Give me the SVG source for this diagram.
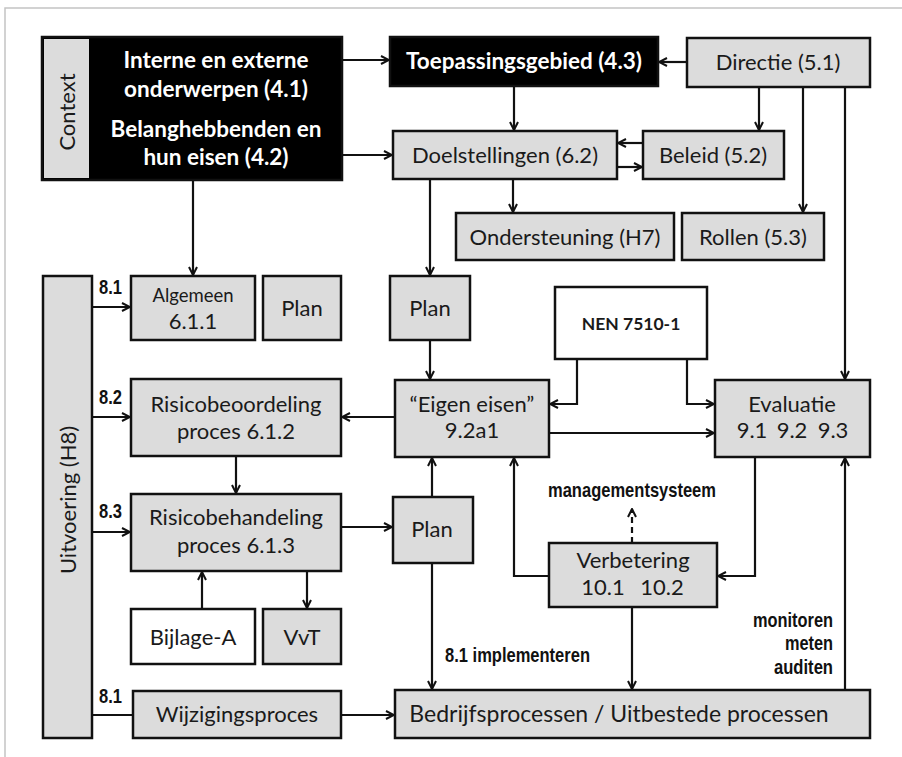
<svg xmlns="http://www.w3.org/2000/svg" width="902" height="757" viewBox="0 0 902 757">
<style>
.bx{fill:#dcdcdc;stroke:#111;stroke-width:2.5}
.bk{fill:#000;stroke:#111;stroke-width:2.5}
.wt{fill:#fff;stroke:#111;stroke-width:2.5}
.t{font-family:"Lato","Open Sans","Liberation Sans",sans-serif;font-size:22px;fill:#1a1a1a;text-anchor:middle}
.tw{font-family:"Lato","Open Sans","Liberation Sans",sans-serif;font-size:22.5px;font-weight:bold;fill:#fff;text-anchor:middle}
.n{font-family:"Liberation Sans",Arial,sans-serif;font-size:21px;font-weight:bold;fill:#111}
.c{fill:none;stroke:#111;stroke-width:2.2}
</style>
<defs>
<marker id="a" viewBox="0 0 10 10" refX="9" refY="5" markerWidth="10" markerHeight="10" markerUnits="userSpaceOnUse" orient="auto">
<path d="M1,1 L9,5 L1,9" fill="none" stroke="#111" stroke-width="2"/>
</marker>
</defs>
<rect width="902" height="757" fill="#fff"/>
<path d="M5,757 V8 H902" fill="none" stroke="#c4c4c4" stroke-width="1.5"/>

<g id="connectors">
<path class="c" d="M342,60 H389" marker-end="url(#a)"/>
<path class="c" d="M342,155 H392" marker-end="url(#a)"/>
<path class="c" d="M687,62 H659" marker-end="url(#a)"/>
<path class="c" d="M514,86 V130" marker-end="url(#a)"/>
<path class="c" d="M643,143 H618" marker-end="url(#a)"/>
<path class="c" d="M617,167 H642" marker-end="url(#a)"/>
<path class="c" d="M759,87 V130" marker-end="url(#a)"/>
<path class="c" d="M803,87 V212" marker-end="url(#a)"/>
<path class="c" d="M845,87 V379" marker-end="url(#a)"/>
<path class="c" d="M513,179 V212" marker-end="url(#a)"/>
<path class="c" d="M193,180 V275" marker-end="url(#a)"/>
<path class="c" d="M430,179 V275" marker-end="url(#a)"/>
<path class="c" d="M92,307 H130" marker-end="url(#a)"/>
<path class="c" d="M92,417 H130" marker-end="url(#a)"/>
<path class="c" d="M92,532 H130" marker-end="url(#a)"/>
<path class="c" d="M92,715 H133"/>
<path class="c" d="M430,340 V379" marker-end="url(#a)"/>
<path class="c" d="M395,417 H342" marker-end="url(#a)"/>
<path class="c" d="M577,359 V404 H550" marker-end="url(#a)"/>
<path class="c" d="M687,359 V404 H714" marker-end="url(#a)"/>
<path class="c" d="M549,433 H714" marker-end="url(#a)"/>
<path class="c" d="M236,456 V493" marker-end="url(#a)"/>
<path class="c" d="M341,527 H392" marker-end="url(#a)"/>
<path class="c" d="M432,497 V458" marker-end="url(#a)"/>
<path class="c" d="M432,563 V689" marker-end="url(#a)"/>
<path class="c" d="M202,609 V572" marker-end="url(#a)"/>
<path class="c" d="M307,571 V608" marker-end="url(#a)"/>
<path class="c" d="M341,715 H394" marker-end="url(#a)"/>
<path class="c" d="M549,576 H514 V458" marker-end="url(#a)"/>
<path class="c" d="M755,457 V576 H718" marker-end="url(#a)"/>
<path class="c" d="M632,543 V509" stroke-dasharray="6,4" marker-end="url(#a)"/>
<path class="c" d="M632,607 V689" marker-end="url(#a)"/>
<path class="c" d="M845,690 V458" marker-end="url(#a)"/>
</g>

<g id="context">
<rect class="bk" x="42" y="37" width="300" height="143"/>
<rect x="44" y="39" width="45" height="139" fill="#dcdcdc"/>
<text class="t" transform="translate(75,112) rotate(-90)">Context</text>
<text class="tw" x="216" y="68">Interne en externe</text>
<text class="tw" x="216" y="97">onderwerpen (4.1)</text>
<text class="tw" x="216" y="137">Belanghebbenden en</text>
<text class="tw" x="216" y="165">hun eisen (4.2)</text>
</g>
<g id="toepassingsgebied">
<rect class="bk" x="390" y="37" width="268" height="49"/>
<text class="tw" x="524" y="69">Toepassingsgebied (4.3)</text>
</g>
<g id="directie">
<rect class="bx" x="687" y="38" width="183" height="49"/>
<text class="t" x="778" y="70">Directie (5.1)</text>
</g>
<g id="doelstellingen">
<rect class="bx" x="393" y="131" width="224" height="48"/>
<text class="t" x="505" y="163">Doelstellingen (6.2)</text>
</g>
<g id="beleid">
<rect class="bx" x="643" y="131" width="141" height="48"/>
<text class="t" x="713" y="163">Beleid (5.2)</text>
</g>
<g id="ondersteuning">
<rect class="bx" x="456" y="213" width="218" height="47"/>
<text class="t" x="565" y="245">Ondersteuning (H7)</text>
</g>
<g id="rollen">
<rect class="bx" x="682" y="213" width="142" height="47"/>
<text class="t" x="753" y="245">Rollen (5.3)</text>
</g>
<g id="uitvoering">
<rect class="bx" x="43" y="276" width="49" height="462"/>
<text class="t" transform="translate(76,500) rotate(-90)">Uitvoering (H8)</text>
</g>
<g id="algemeen">
<rect class="bx" x="131" y="276" width="124" height="64"/>
<text class="t" x="193" y="302" style="font-size:18.5px">Algemeen</text>
<text class="t" x="193" y="329">6.1.1</text>
</g>
<g id="plan1">
<rect class="bx" x="263" y="276" width="78" height="64"/>
<text class="t" x="302" y="316">Plan</text>
</g>
<g id="plan2">
<rect class="bx" x="390" y="276" width="80" height="64"/>
<text class="t" x="430" y="316">Plan</text>
</g>
<g id="nen">
<rect class="wt" x="555" y="287" width="152" height="72"/>
<text class="t" x="631" y="330" style="font-size:17.5px;font-weight:bold">NEN 7510-1</text>
</g>
<g id="risicobeoordeling">
<rect class="bx" x="131" y="379" width="210" height="77"/>
<text class="t" x="236" y="412">Risicobeoordeling</text>
<text class="t" x="236" y="439">proces 6.1.2</text>
</g>
<g id="eigen-eisen">
<rect class="bx" x="395" y="380" width="154" height="77"/>
<text class="t" x="472" y="412">“Eigen eisen”</text>
<text class="t" x="472" y="438">9.2a1</text>
</g>
<g id="evaluatie">
<rect class="bx" x="715" y="380" width="155" height="77"/>
<text class="t" x="792" y="412">Evaluatie</text>
<text class="t" x="752" y="438">9.1</text>
<text class="t" x="792" y="438">9.2</text>
<text class="t" x="833" y="438">9.3</text>
</g>
<g id="risicobehandeling">
<rect class="bx" x="131" y="494" width="210" height="77"/>
<text class="t" x="236" y="525">Risicobehandeling</text>
<text class="t" x="236" y="553">proces 6.1.3</text>
</g>
<g id="plan3">
<rect class="bx" x="393" y="497" width="80" height="66"/>
<text class="t" x="432" y="537">Plan</text>
</g>
<g id="verbetering">
<rect class="bx" x="549" y="543" width="168" height="64"/>
<text class="t" x="633" y="568">Verbetering</text>
<text class="t" x="603" y="595">10.1</text>
<text class="t" x="662" y="595">10.2</text>
</g>
<g id="bijlage">
<rect class="wt" x="131" y="609" width="124" height="55"/>
<text class="t" x="193" y="645">Bijlage-A</text>
</g>
<g id="vvt">
<rect class="bx" x="263" y="609" width="78" height="55"/>
<text class="t" x="302" y="645">VvT</text>
</g>
<g id="wijzigingsproces">
<rect class="bx" x="133" y="691" width="208" height="47"/>
<text class="t" x="237" y="722">Wijzigingsproces</text>
</g>
<g id="bedrijfsprocessen">
<rect class="bx" x="395" y="690" width="475" height="48"/>
<text class="t" x="619" y="722" style="font-size:23px">Bedrijfsprocessen / Uitbestede processen</text>
</g>
<g id="labels">
<text class="n" x="99" y="294" textLength="23" lengthAdjust="spacingAndGlyphs">8.1</text>
<text class="n" x="99" y="404" textLength="23" lengthAdjust="spacingAndGlyphs">8.2</text>
<text class="n" x="99" y="518" textLength="23" lengthAdjust="spacingAndGlyphs">8.3</text>
<text class="n" x="99" y="703" textLength="23" lengthAdjust="spacingAndGlyphs">8.1</text>
<text class="n" x="548" y="497" textLength="168" lengthAdjust="spacingAndGlyphs">managementsysteem</text>
<text class="n" x="445" y="662" textLength="145" lengthAdjust="spacingAndGlyphs">8.1 implementeren</text>
<text class="n" x="753" y="627" textLength="80" lengthAdjust="spacingAndGlyphs">monitoren</text>
<text class="n" x="785" y="650" textLength="48" lengthAdjust="spacingAndGlyphs">meten</text>
<text class="n" x="774" y="674" textLength="59" lengthAdjust="spacingAndGlyphs">auditen</text>
</g>
</svg>
